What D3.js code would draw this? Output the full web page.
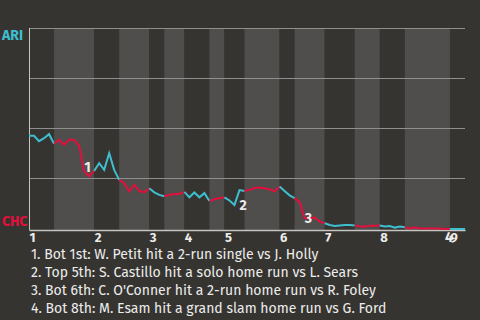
<!DOCTYPE html>
<html>
<head>
<meta charset="utf-8">
<script src="https://cdn.jsdelivr.net/npm/d3@7"></script>
<style>
  html, body { margin: 0; padding: 0; background: #363430; }
  svg { display: block; }
  text { font-family: "Fira Sans", "Open Sans", sans-serif; }
</style>
</head>
<body>
<svg id="chart" width="480" height="320"></svg>
<script>
// Teams: away team wins at the top, home team at the bottom
const awayTeam = "ARI";
const homeTeam = "CHC";

// Inning labels shown under the start of each top half
const innings = ["1", "2", "3", "4", "5", "6", "7", "8", "9"];

// Plate appearances in each half inning (Top 1, Bot 1, Top 2, ... Top 9)
const halfInningPAs = [5, 8, 5, 6, 3, 4, 5, 3, 4, 7, 3, 6, 6, 5, 5, 9, 3];

// Away-team win probability (%) before the first PA and after every PA
const awayWinPct = [
  46.5, 46.5, 43.8, 45.3, 47.3, 42.5, 44.5, 42.0, 44.5, 44.5,
  41.5, 28.8, 26.3, 29.0, 32.8, 29.5, 37.8, 29.5, 24.5, 22.8,
  18.8, 22.0, 19.0, 18.3, 20.3, 18.3, 17.0, 16.3, 17.0, 17.5,
  17.5, 18.5, 15.8, 18.2, 15.8, 17.9, 14.0, 14.8, 15.3, 15.8,
  14.2, 12.0, 19.4, 19.0, 19.5, 20.4, 20.7, 20.3, 19.8, 18.8,
  21.2, 19.0, 16.8, 15.4, 13.5, 5.4, 5.4, 5.7, 3.7, 2.9,
  2.0, 1.5, 1.8, 2.0, 2.0, 1.8, 1.2, 1.2, 1.6, 1.6,
  1.7, 1.2, 1.5, 0.7, 1.2, 0.9, 0.3, 0.7, 0.2, 0.2,
  0.2, 0.2, 0.2, 0.0, 0.0, 0.0, 0.0, 0.0
];

// Key plays: the point reached after the play, and its description
const eventPoint = [11, 42, 55, 83];
const eventText = [
  "Bot 1st: W. Petit hit a 2-run single vs J. Holly",
  "Top 5th: S. Castillo hit a solo home run vs L. Sears",
  "Bot 6th: C. O'Conner hit a 2-run home run vs R. Foley",
  "Bot 8th: M. Esam hit a grand slam home run vs G. Ford"
];

const colors = {
  bg: "#363430",
  bandLight: "#4f4e4c",
  grid: "#8f8f8d",
  axis: "#c4c4c2",
  text: "#ececec",
  away: "#3dbfcf",
  home: "#e2103c"
};

const svg = d3.select("#chart");

const totalPAs = d3.sum(halfInningPAs);
const starts = d3.cumsum([0].concat(halfInningPAs)); // start index of every half, plus the end

const x = d3.scaleLinear().domain([0, totalPAs]).range([29, 465]);
const y = d3.scaleLinear().domain([0, 100]).range([229, 28.5]);
const crisp = v => Math.floor(v) + 0.5;

// Alternating half-inning bands
svg.append("g")
  .selectAll("rect")
  .data(halfInningPAs)
  .join("rect")
  .attr("x", (d, i) => x(starts[i]))
  .attr("width", (d, i) => x(starts[i + 1]) - x(starts[i]))
  .attr("y", 28)
  .attr("height", 202)
  .attr("fill", (d, i) => i % 2 ? colors.bandLight : colors.bg);

// Horizontal gridlines
svg.append("g")
  .selectAll("line")
  .data([25, 50, 75, 100])
  .join("line")
  .attr("x1", x(0))
  .attr("x2", x(totalPAs))
  .attr("y1", d => crisp(y(d)))
  .attr("y2", d => crisp(y(d)))
  .attr("stroke", colors.grid)
  .attr("stroke-width", 1);

// Left axis line
svg.append("line")
  .attr("x1", 29.5).attr("x2", 29.5)
  .attr("y1", crisp(y(100)) - 0.5).attr("y2", 230)
  .attr("stroke", colors.axis)
  .attr("stroke-width", 1);

// Bottom axis with inning numbers at the start of each top half
const topStarts = innings.map((d, i) => starts[i * 2]);
const xAxis = d3.axisBottom(x)
  .tickValues(topStarts)
  .tickFormat((d, i) => innings[i])
  .tickSize(0)
  .tickSizeOuter(0);

const gx = svg.append("g")
  .attr("transform", "translate(0,230)")
  .call(xAxis);
gx.select(".domain")
  .attr("stroke", colors.axis)
  .attr("stroke-width", 1.5);
gx.selectAll(".tick text")
  .attr("text-anchor", "start")
  .attr("x", 0)
  .attr("y", 12)
  .attr("dy", 0)
  .attr("fill", colors.text)
  .style("font-family", '"Fira Sans", "Open Sans", sans-serif')
  .style("font-size", "13px")
  .style("font-weight", "bold");

// Team labels at the two ends of the probability scale
svg.append("text")
  .attr("x", 2)
  .attr("y", y(100) + 11.5)
  .attr("fill", colors.away)
  .style("font-size", "14px")
  .style("font-weight", "bold")
  .text(awayTeam);
svg.append("text")
  .attr("x", 2)
  .attr("y", y(0) - 3)
  .attr("fill", colors.home)
  .style("font-size", "14px")
  .style("font-weight", "bold")
  .text(homeTeam);

// Win probability line, coloured by the team at bat in each half inning
const line = d3.line()
  .x(d => x(d.i))
  .y(d => y(d.v));

const points = awayWinPct.map((v, i) => ({ i, v }));

svg.append("g")
  .selectAll("path")
  .data(halfInningPAs)
  .join("path")
  .attr("d", (d, h) => line(points.slice(starts[h], starts[h + 1] + 1)))
  .attr("fill", "none")
  .attr("stroke", (d, h) => h % 2 ? colors.home : colors.away)
  .attr("stroke-width", 2)
  .attr("stroke-linejoin", "miter");

// Numbered markers at the key plays
const markerDy = [0.5, 19.5, 5, 13];
svg.append("g")
  .selectAll("text")
  .data(eventPoint)
  .join("text")
  .attr("x", d => x(d))
  .attr("y", (d, k) => y(awayWinPct[d]) + markerDy[k])
  .attr("fill", colors.text)
  .style("font-size", "14px")
  .style("font-weight", "bold")
  .text((d, k) => k + 1);

// Key-play list below the chart
svg.append("g")
  .selectAll("text")
  .data(eventText)
  .join("text")
  .attr("x", 31)
  .attr("y", (d, k) => 259 + k * 18)
  .attr("fill", colors.text)
  .style("font-size", "14px")
  .text((d, k) => `${k + 1}. ${d}`);
</script>
</body>
</html>
